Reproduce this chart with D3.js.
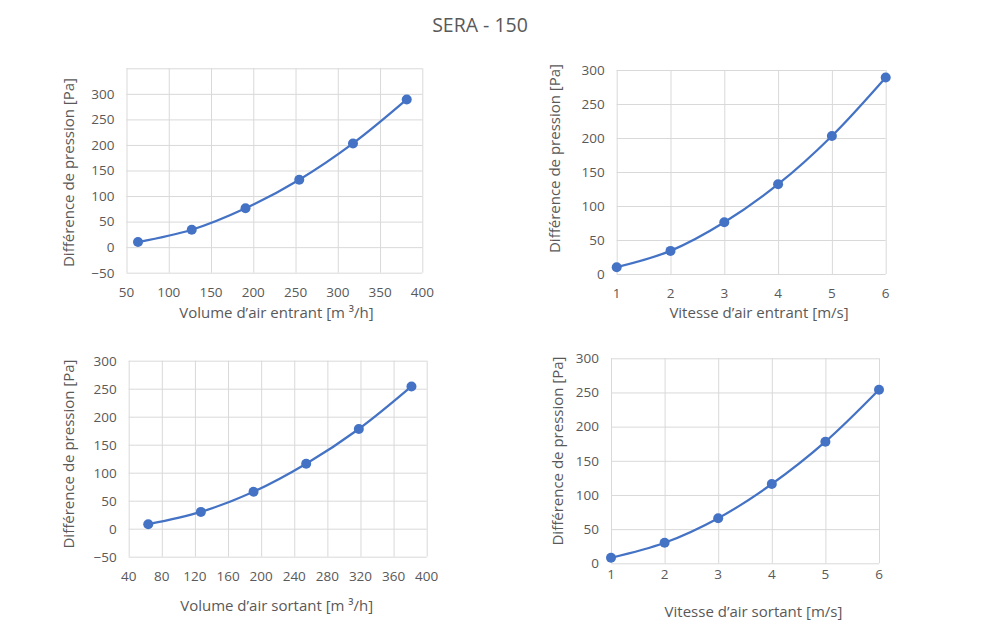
<!DOCTYPE html>
<html>
<head>
<meta charset="utf-8">
<script src="https://cdn.jsdelivr.net/npm/d3@7"></script>
<style>
  html, body { margin: 0; padding: 0; background: #fff; }
  svg { display: block; }
  text { font-family: "Open Sans", Lato, sans-serif; fill: #595959; }
</style>
</head>
<body>
<svg id="chart" width="1000" height="638"></svg>
<script>
// ---- Data ----
const title = "SERA - 150";
const volumeEntrant = [63.6, 127.2, 190.8, 254.4, 318, 381.6];
const volumeSortant = [63.6, 127.2, 190.8, 254.4, 318, 381.6];
const vitesse = [1, 2, 3, 4, 5, 6];
const dpEntrant = [10, 34, 76, 132, 203, 289];
const dpSortant = [8, 30, 66, 116, 178, 254];

const xTicksVolEntrant = [50, 100, 150, 200, 250, 300, 350, 400];
const xTicksVolSortant = [40, 80, 120, 160, 200, 240, 280, 320, 360, 400];
const xTicksVitesse = [1, 2, 3, 4, 5, 6];
const yTicksA = [-50, 0, 50, 100, 150, 200, 250, 300];
const yTicksB = [0, 50, 100, 150, 200, 250, 300];

const yTitle = "Différence de pression [Pa]";

const panels = [
  { x: volumeEntrant, y: dpEntrant, xTicks: xTicksVolEntrant, yTicks: yTicksA, yGridMax: 350,
    xTitle: "Volume d’air entrant [m ³/h]",
    box: { l: 126.5, r: 422.3, t: 68.3, b: 272.7 },
    tickY: 296.5, xTitleY: 318, xTitleX: 276.5, yTitleX: 69, yTitleY: 172.5 },
  { x: vitesse, y: dpEntrant, xTicks: xTicksVitesse, yTicks: yTicksB, yGridMax: 300,
    xTitle: "Vitesse d’air entrant [m/s]",
    box: { l: 616.7, r: 885.7, t: 70, b: 274 },
    tickY: 297.5, xTitleY: 318, xTitleX: 759, yTitleX: 555, yTitleY: 158.5 },
  { x: volumeSortant, y: dpSortant, xTicks: xTicksVolSortant, yTicks: yTicksA, yGridMax: 300,
    xTitle: "Volume d’air sortant [m ³/h]",
    box: { l: 128.7, r: 426.7, t: 360.7, b: 556.7 },
    tickY: 580.5, xTitleY: 610.5, xTitleX: 276.7, yTitleX: 69, yTitleY: 454 },
  { x: vitesse, y: dpSortant, xTicks: xTicksVitesse, yTicks: yTicksB, yGridMax: 300,
    xTitle: "Vitesse d’air sortant [m/s]",
    box: { l: 611, r: 879, t: 358.3, b: 563.3 },
    tickY: 578.5, xTitleY: 617, xTitleX: 753.5, yTitleX: 558, yTitleY: 451 }
];

const svg = d3.select("#chart");
const lineColor = "#4472C4";
const gridColor = "#d9d9d9";
const fontFam = "'Open Sans', Lato, sans-serif";

svg.append("text")
  .attr("x", 480).attr("y", 31.5)
  .attr("text-anchor", "middle")
  .style("font-size", "19.5px")
  .text(title);

panels.forEach(p => {
  const b = p.box;
  const xs = d3.scaleLinear().domain([p.xTicks[0], p.xTicks[p.xTicks.length - 1]]).range([b.l, b.r]);
  const ys = d3.scaleLinear().domain([p.yTicks[0], p.yGridMax]).range([b.b, b.t]);
  const g = svg.append("g");

  // horizontal gridlines
  const yGrid = p.yTicks.slice();
  if (p.yGridMax > p.yTicks[p.yTicks.length - 1]) yGrid.push(p.yGridMax);
  g.append("g").attr("transform", `translate(${b.l},0)`)
    .call(d3.axisLeft(ys).tickValues(yGrid).tickSize(-(b.r - b.l)).tickFormat(""))
    .call(a => a.select(".domain").remove())
    .call(a => a.selectAll("line").attr("stroke", gridColor).attr("stroke-width", 1));

  // vertical gridlines
  g.append("g").attr("transform", `translate(0,${b.b})`)
    .call(d3.axisBottom(xs).tickValues(p.xTicks).tickSize(-(b.b - b.t)).tickFormat(""))
    .call(a => a.select(".domain").remove())
    .call(a => a.selectAll("line").attr("stroke", gridColor).attr("stroke-width", 1));

  // y tick labels
  g.append("g").attr("transform", `translate(${b.l - 12},0)`)
    .call(d3.axisLeft(ys).tickValues(p.yTicks).tickSize(0).tickPadding(0))
    .call(a => a.select(".domain").remove())
    .call(a => a.selectAll("text").style("font-size", "13.5px").attr("fill", "#595959")
      .style("font-family", fontFam));

  // x tick labels
  g.append("g").selectAll("text").data(p.xTicks).join("text")
    .attr("x", d => xs(d)).attr("y", p.tickY)
    .attr("text-anchor", "middle")
    .style("font-size", "13.5px")
    .text(d => d);

  // axis titles
  g.append("text")
    .attr("x", p.xTitleX).attr("y", p.xTitleY)
    .attr("text-anchor", "middle")
    .style("font-size", "15px")
    .text(p.xTitle);
  g.append("text")
    .attr("transform", `translate(${p.yTitleX},${p.yTitleY}) rotate(-90)`)
    .attr("text-anchor", "middle")
    .attr("dy", "0.35em")
    .style("font-size", "15px")
    .text(yTitle);

  // series
  const pts = p.x.map((xv, i) => [xv, p.y[i]]);
  const line = d3.line().x(d => xs(d[0])).y(d => ys(d[1])).curve(d3.curveCatmullRom.alpha(0.5));
  g.append("path").datum(pts)
    .attr("d", line)
    .attr("fill", "none")
    .attr("stroke", lineColor)
    .attr("stroke-width", 2.25)
    .attr("stroke-linecap", "round");
  g.append("g").selectAll("circle").data(pts).join("circle")
    .attr("cx", d => xs(d[0])).attr("cy", d => ys(d[1]))
    .attr("r", 5)
    .attr("fill", lineColor);
});
</script>
</body>
</html>
